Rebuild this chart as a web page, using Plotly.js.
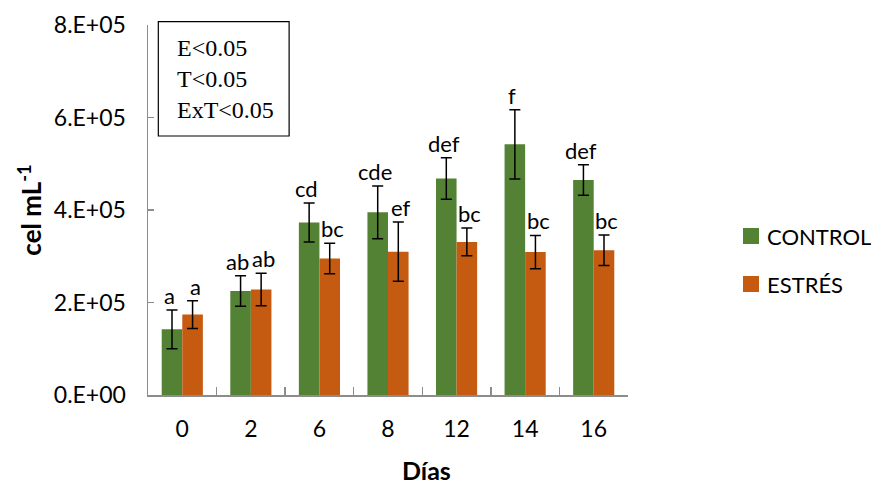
<!DOCTYPE html>
<html>
<head>
<meta charset="utf-8">
<script src="https://cdn.plot.ly/plotly-3.0.1.min.js"></script>
<style>html,body{margin:0;padding:0;background:#fff;}#chart{width:871px;height:485px;}</style>
</head>
<body>
<div id="chart"></div>
<script>
const dias = ['0', '2', '6', '8', '12', '14', '16'];
const control = [142000, 225000, 373000, 395000, 468000, 542000, 465000];
const controlErr = [42000, 33000, 42000, 57000, 45000, 75000, 33000];
const estres = [174000, 228000, 295000, 310000, 331000, 309000, 313000];
const estresErr = [30000, 35000, 33000, 64000, 30000, 36000, 33000];
const controlLetters = ['a', 'ab', 'cd', 'cde', 'def', 'f', 'def'];
const estresLetters = ['a', 'ab', 'bc', 'ef', 'bc', 'bc', 'bc'];
const seriesNames = ['CONTROL', 'ESTRÉS'];
const yTickVals = [0, 200000, 400000, 600000, 800000];
const yTickText = ['0.E+00', '2.E+05', '4.E+05', '6.E+05', '8.E+05'];
const statsLines = ['E<0.05', 'T<0.05', 'ExT<0.05'];
const xTitle = 'Días';
const yTitle = 'cel mL<sup>-1</sup>';

const COLORS = ['#548235', '#C55A11'];
const FONT = 'Lato, "Open Sans", sans-serif';

const errStyle = {type: 'data', visible: true, color: '#000', thickness: 1.5, width: 5.5};

const traces = [
  {type: 'bar', name: seriesNames[0], x: dias, y: control, marker: {color: COLORS[0]},
   error_y: Object.assign({array: controlErr}, errStyle), showlegend: false},
  {type: 'bar', name: seriesNames[1], x: dias, y: estres, marker: {color: COLORS[1]},
   error_y: Object.assign({array: estresErr}, errStyle), showlegend: false}
];

const annotations = [];
const shapes = [];
function addLetters(vals, errs, letters, shift) {
  for (let i = 0; i < dias.length; i++) {
    annotations.push({
      x: i, y: vals[i] + errs[i], xref: 'x', yref: 'y',
      text: letters[i], showarrow: false, xanchor: 'center', yanchor: 'bottom',
      xshift: shift, yshift: -1,
      font: {family: FONT, size: 22, color: '#000'}
    });
  }
}
addLetters(control, controlErr, controlLetters, -13);
addLetters(estres, estresErr, estresLetters, 13);

// stats box
shapes.push({type: 'rect', xref: 'paper', yref: 'paper', x0: 0.0215, x1: 0.294, y0: 0.70, y1: 1.009,
             line: {color: '#000', width: 1.2}, fillcolor: 'rgba(0,0,0,0)'});
annotations.push({
  xref: 'paper', yref: 'paper', x: 0.056, y: 0.854, xanchor: 'left', yanchor: 'middle',
  showarrow: false, align: 'left',
  text: statsLines.map(s => s.replace(/</g, '&lt;')).join('<br>'),
  font: {family: '"Liberation Serif", "Times New Roman", serif', size: 24, color: '#000'}
});

// x-axis title
annotations.push({
  xref: 'paper', yref: 'paper', x: 0.58, y: -0.203, xanchor: 'center', yanchor: 'middle',
  showarrow: false, text: '<b>' + xTitle + '</b>',
  font: {family: FONT, size: 25, color: '#000'}
});

// legend (right side)
const legendRowsY = [0.4297, 0.30];
seriesNames.forEach((name, k) => {
  const yc = legendRowsY[k];
  shapes.push({type: 'rect', xref: 'paper', yref: 'paper',
               x0: 1.2396, x1: 1.2729, y0: yc - 0.0216, y1: yc + 0.0216,
               line: {width: 0}, fillcolor: COLORS[k]});
  annotations.push({xref: 'paper', yref: 'paper', x: 1.286, y: yc, xanchor: 'left', yanchor: 'middle',
                    showarrow: false, text: name, font: {family: FONT, size: 22, color: '#000'}});
});

const layout = {
  width: 871, height: 485,
  margin: {l: 148, r: 243, t: 25, b: 90},
  paper_bgcolor: '#fff', plot_bgcolor: '#fff',
  font: {family: FONT, size: 20, color: '#000'},
  barmode: 'group', bargap: 0.4, bargroupgap: 0,
  showlegend: false,
  xaxis: {
    type: 'category', range: [-0.5, dias.length - 0.5],
    showline: true, linecolor: '#8c8c8c', linewidth: 1.5,
    ticks: 'inside', tickson: 'boundaries', ticklen: 8, tickcolor: '#8c8c8c', tickwidth: 1.5,
    tickfont: {family: FONT, size: 23}, ticklabelstandoff: 13, tickangle: 0,
    showgrid: false, zeroline: false, automargin: false
  },
  yaxis: {
    range: [0, 800000], tickvals: yTickVals, ticktext: yTickText,
    showline: true, linecolor: '#8c8c8c', linewidth: 1.5,
    ticks: 'inside', ticklen: 6, tickcolor: '#8c8c8c', tickwidth: 1.5,
    tickfont: {family: FONT, size: 23}, ticklabelstandoff: 16,
    showgrid: false, zeroline: false, automargin: false,
    title: {text: '<b>' + yTitle + '</b>', font: {family: FONT, size: 26}, standoff: 4}
  },
  shapes: shapes,
  annotations: annotations
};

Plotly.newPlot('chart', traces, layout, {displayModeBar: false, staticPlot: true});
</script>
</body>
</html>
